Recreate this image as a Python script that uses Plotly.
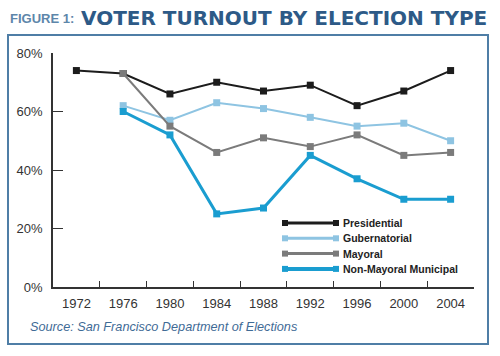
import plotly.graph_objects as go

years = ["1972", "1976", "1980", "1984", "1988", "1992", "1996", "2000", "2004"]
presidential = [74, 73, 66, 70, 67, 69, 62, 67, 74]
gubernatorial = [None, 62, 57, 63, 61, 58, 55, 56, 50]
mayoral = [None, 73, 55, 46, 51, 48, 52, 45, 46]
non_mayoral = [None, 60, 52, 25, 27, 45, 37, 30, 30]
y_ticks = [0, 20, 40, 60, 80]
y_tick_labels = ["0%", "20%", "40%", "60%", "80%"]

series = [
    ("Presidential", presidential, "#1c1c1c", 2),
    ("Gubernatorial", gubernatorial, "#8ec4e2", 2),
    ("Mayoral", mayoral, "#7b7b7b", 2),
    ("Non-Mayoral Municipal", non_mayoral, "#1a9dd0", 3),
]

W, H = 500, 356
L, R, T, B = 53, 474, 53, 287

def px(x):
    return (x - L) / (R - L)

def py(y):
    return (B - y) / (B - T)

fig = go.Figure()
for name, vals, col, lw in series:
    fig.add_trace(go.Scatter(
        x=years, y=vals, name=name, mode="lines+markers",
        line=dict(color=col, width=lw),
        marker=dict(symbol="square", size=7, color=col),
        connectgaps=False, showlegend=False,
    ))

# custom legend (line with square at both ends, like the reference)
leg_x0, leg_x1, leg_text_x = 285, 336, 341
leg_y0, leg_dy = 223, 15.3
for i, (name, vals, col, lw) in enumerate(series):
    yy = leg_y0 + i * leg_dy
    fig.add_shape(type="line", xref="paper", yref="paper",
                  x0=px(leg_x0), x1=px(leg_x1), y0=py(yy), y1=py(yy),
                  line=dict(color=col, width=lw + 1))
    for xe in (leg_x0, leg_x1):
        fig.add_shape(type="rect", xref="paper", yref="paper",
                      x0=px(xe - 3), x1=px(xe + 3), y0=py(yy + 3), y1=py(yy - 3),
                      line=dict(width=0), fillcolor=col)
    fig.add_annotation(text="<b>" + name + "</b>", xref="paper", yref="paper",
                       x=px(leg_text_x), y=py(yy), xanchor="left", yanchor="middle",
                       showarrow=False,
                       font=dict(family="Liberation Sans, Arial", size=10.5, color="#222222"))

fig.update_layout(
    width=W, height=H,
    margin=dict(l=L, r=W - R, t=T, b=H - B),
    paper_bgcolor="white", plot_bgcolor="white",
    showlegend=False,
    xaxis=dict(
        type="category", range=[-0.5, 8.5],
        showline=True, linecolor="#333333", linewidth=1.5,
        ticks="inside", ticklen=6, tickcolor="#333333", tickson="boundaries",
        showgrid=False, zeroline=False, ticklabelstandoff=4,
        tickfont=dict(family="Liberation Sans, Arial", size=13, color="#333333"),
    ),
    yaxis=dict(
        range=[0, 80], tickvals=y_ticks, ticktext=y_tick_labels,
        showline=True, linecolor="#333333", linewidth=1.5,
        ticks="inside", ticklen=10, tickcolor="#333333",
        showgrid=False, zeroline=False, ticklabelstandoff=6,
        tickfont=dict(family="Liberation Sans, Arial", size=13, color="#333333"),
    ),
)

fig.add_shape(type="rect", xref="paper", yref="paper",
              x0=px(8), x1=px(488), y0=py(344), y1=py(35),
              line=dict(color="#4f7ea6", width=2), fillcolor="rgba(0,0,0,0)", layer="below")

fig.add_annotation(text="FIGURE 1:", xref="paper", yref="paper",
                   x=px(8), y=py(18), xanchor="left", yanchor="middle", showarrow=False,
                   font=dict(family="Liberation Sans Narrow, Liberation Sans", size=13, color="#5d86aa", weight="bold"))
fig.add_annotation(text="VOTER TURNOUT BY ELECTION TYPE", xref="paper", yref="paper",
                   x=px(79), y=py(18), xanchor="left", yanchor="middle", showarrow=False,
                   font=dict(family="DejaVu Sans", size=20, color="#2d5a87", weight="bold"))
fig.add_annotation(text="<i>Source: San Francisco Department of Elections</i>", xref="paper", yref="paper",
                   x=px(28), y=py(327), xanchor="left", yanchor="middle", showarrow=False,
                   font=dict(family="Liberation Sans, Arial", size=12.7, color="#3f6b96"))

fig.write_html("out.html", config={"displayModeBar": False},
               post_script="document.body.style.margin='0';")
